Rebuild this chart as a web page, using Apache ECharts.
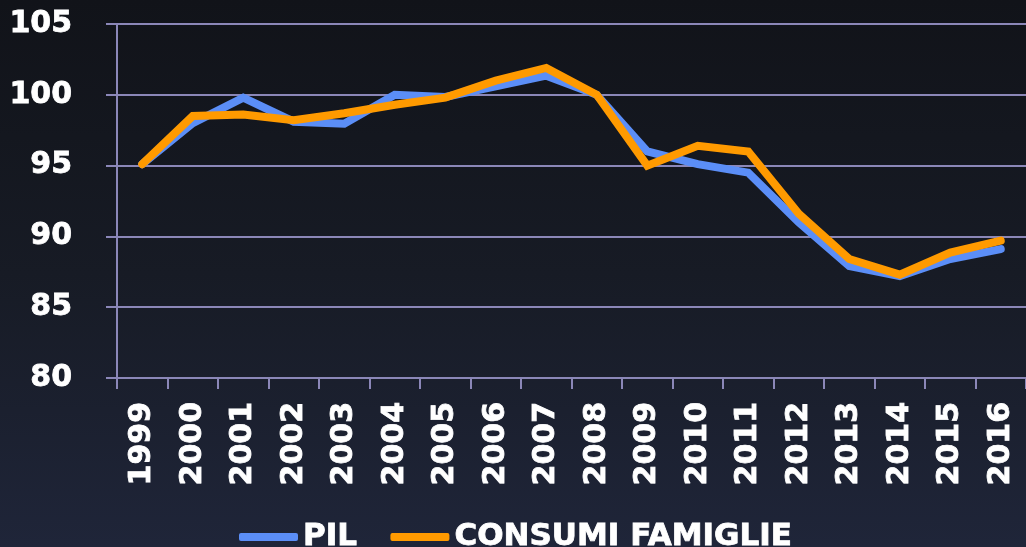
<!DOCTYPE html>
<html>
<head>
<meta charset="utf-8">
<title>PIL e consumi famiglie</title>
<script src="https://cdn.jsdelivr.net/npm/echarts@6/dist/echarts.min.js"></script>
<style>
  html, body { margin: 0; padding: 0; }
  #chart {
    width: 1026px;
    height: 547px;
    background: linear-gradient(to bottom, #111319 0%, #171b25 50%, #1f2539 100%);
  }
</style>
</head>
<body>
<div id="chart"></div>
<script>
// anni
const years = ['1999', '2000', '2001', '2002', '2003', '2004', '2005', '2006', '2007',
  '2008', '2009', '2010', '2011', '2012', '2013', '2014', '2015', '2016']
// PIL (indice 2008 = 100)
const pil = [95.1, 98.0, 99.8, 98.1, 97.95, 100.0, 99.85, 100.6, 101.35,
  100.0, 96.0, 95.1, 94.5, 91.0, 87.9, 87.2, 88.4, 89.1]
// consumi delle famiglie
const consumi = [95.1, 98.5, 98.6, 98.2, 98.7, 99.3, 99.8, 101.0, 101.9,
  100.0, 95.0, 96.4, 96.0, 91.6, 88.4, 87.3, 88.85, 89.7]

const chart = echarts.init(document.getElementById('chart'))

const gridColor = '#8b87b8'
// testo bianco molto grassetto (bordo per appesantire il carattere)
const labelFont = {
  color: '#ffffff',
  fontFamily: 'DejaVu Sans',
  fontWeight: 'bold',
  fontSize: 30,
  textBorderColor: '#ffffff',
  textBorderWidth: 0.8
}

const option = {
  animation: false,
  grid: {
    left: 117,
    top: 24,
    width: 911,
    bottom: 169
  },
  legend: {
    left: 234,
    top: 516,
    itemWidth: 59,
    itemHeight: 8,
    itemGap: 33,
    icon: 'roundRect',
    textStyle: Object.assign({}, labelFont, { fontSize: 31 }),
    data: ['PIL', 'CONSUMI FAMIGLIE']
  },
  xAxis: {
    type: 'category',
    data: years,
    boundaryGap: true,
    axisLine: { lineStyle: { color: gridColor, width: 2 } },
    axisTick: { show: true, length: 11, lineStyle: { color: gridColor, width: 2 } },
    axisLabel: Object.assign({}, labelFont, { rotate: 90, margin: 24, interval: 0 })
  },
  yAxis: {
    type: 'value',
    min: 80,
    max: 105,
    interval: 5,
    axisLine: { show: true, lineStyle: { color: gridColor, width: 2 } },
    axisTick: { show: true, length: 11, lineStyle: { color: gridColor, width: 2 } },
    splitLine: { lineStyle: { color: gridColor, width: 2 } },
    axisLabel: Object.assign({}, labelFont, { margin: 45 })
  },
  series: [
    {
      name: 'PIL',
      type: 'line',
      data: pil,
      symbol: 'none',
      color: '#5b8ef7',
      lineStyle: { width: 8, cap: 'round', join: 'miter' }
    },
    {
      name: 'CONSUMI FAMIGLIE',
      type: 'line',
      data: consumi,
      symbol: 'none',
      color: '#ff9a00',
      lineStyle: { width: 8, cap: 'round', join: 'miter' }
    }
  ]
}

chart.setOption(option)
</script>
</body>
</html>
